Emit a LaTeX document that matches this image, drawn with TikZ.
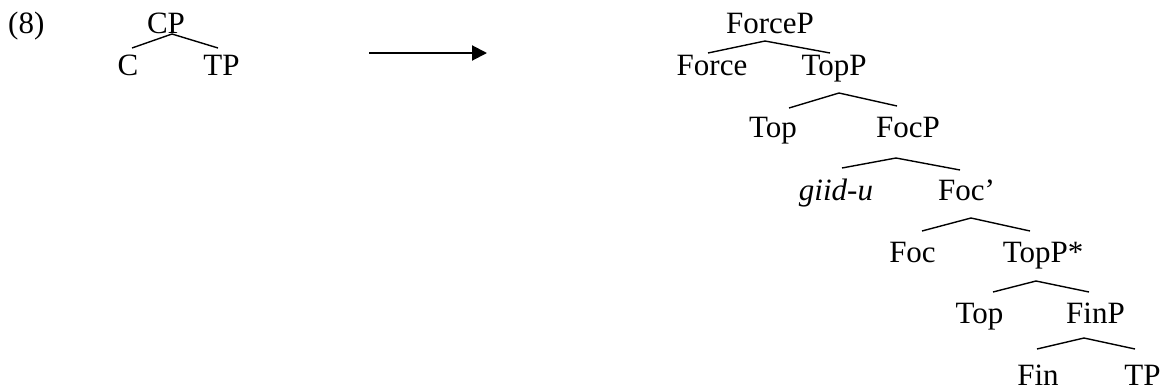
\documentclass[tikz,border=0pt]{standalone}
\usepackage{fontspec}
\setmainfont{Liberation Serif}
\usetikzlibrary{arrows.meta}
\tikzset{
  lbl/.style={inner sep=0pt, anchor=base, font=\fontsize{31}{31}\selectfont},
  branch/.style={line width=1.4pt},
  bigarrow/.style={line width=2pt, -{Triangle[length=15pt,width=15pt]}}
}
\begin{document}
\begin{tikzpicture}[x=1pt,y=-1pt]
\useasboundingbox (0,0) rectangle (1167,389);
% left tree
\node[lbl, anchor=base west] (num) at (8,33) {(8)};
\node[lbl] (CP) at (166,33) {CP};
\node[lbl] (C) at (128,75) {C};
\node[lbl] (TPa) at (221.5,75) {TP};
\coordinate (CPa) at (172,34);
\coordinate (Ce) at (132,48);
\coordinate (TPae) at (218,48);
\draw[branch] (Ce) -- (CPa) -- (TPae);
% arrow
\coordinate (arrS) at (369,53);
\coordinate (arrE) at (487,53);
\draw[bigarrow] (arrS) -- (arrE);
% right tree
\node[lbl] (ForceP) at (770,33) {ForceP};
\node[lbl] (Force) at (712,75) {Force};
\node[lbl] (TopP) at (834,75) {TopP};
\coordinate (ForcePa) at (765,41);
\coordinate (Forcee) at (708,53);
\coordinate (TopPe) at (830,53);
\draw[branch] (Forcee) -- (ForcePa) -- (TopPe);

\node[lbl] (Top) at (773,137) {Top};
\node[lbl] (FocP) at (908,137) {FocP};
\coordinate (TopPa) at (839,93);
\coordinate (Tope) at (789,108);
\coordinate (FocPe) at (897,106);
\draw[branch] (Tope) -- (TopPa) -- (FocPe);

\node[lbl] (giid) at (836,200) {\itshape giid-u};
\node[lbl] (Focbar) at (966.5,200) {Foc’};
\coordinate (FocPa) at (896,158);
\coordinate (giide) at (842,168);
\coordinate (Focbare) at (960,170);
\draw[branch] (giide) -- (FocPa) -- (Focbare);

\node[lbl] (Foc) at (912.5,262) {Foc};
\node[lbl] (TopPs) at (1043,262) {TopP*};
\coordinate (Focbara) at (971,218);
\coordinate (Foce) at (922,231);
\coordinate (TopPse) at (1030,231);
\draw[branch] (Foce) -- (Focbara) -- (TopPse);

\node[lbl] (Topb) at (979.5,323) {Top};
\node[lbl] (FinP) at (1095.5,323) {FinP};
\coordinate (TopPsa) at (1036,281);
\coordinate (Topbe) at (993,292);
\coordinate (FinPe) at (1089,292);
\draw[branch] (Topbe) -- (TopPsa) -- (FinPe);

\node[lbl] (Fin) at (1038,385) {Fin};
\node[lbl] (TPb) at (1142.5,385) {TP};
\coordinate (FinPa) at (1084,338);
\coordinate (Fine) at (1037,349);
\coordinate (TPbe) at (1135,349);
\draw[branch] (Fine) -- (FinPa) -- (TPbe);
\end{tikzpicture}
\end{document}
